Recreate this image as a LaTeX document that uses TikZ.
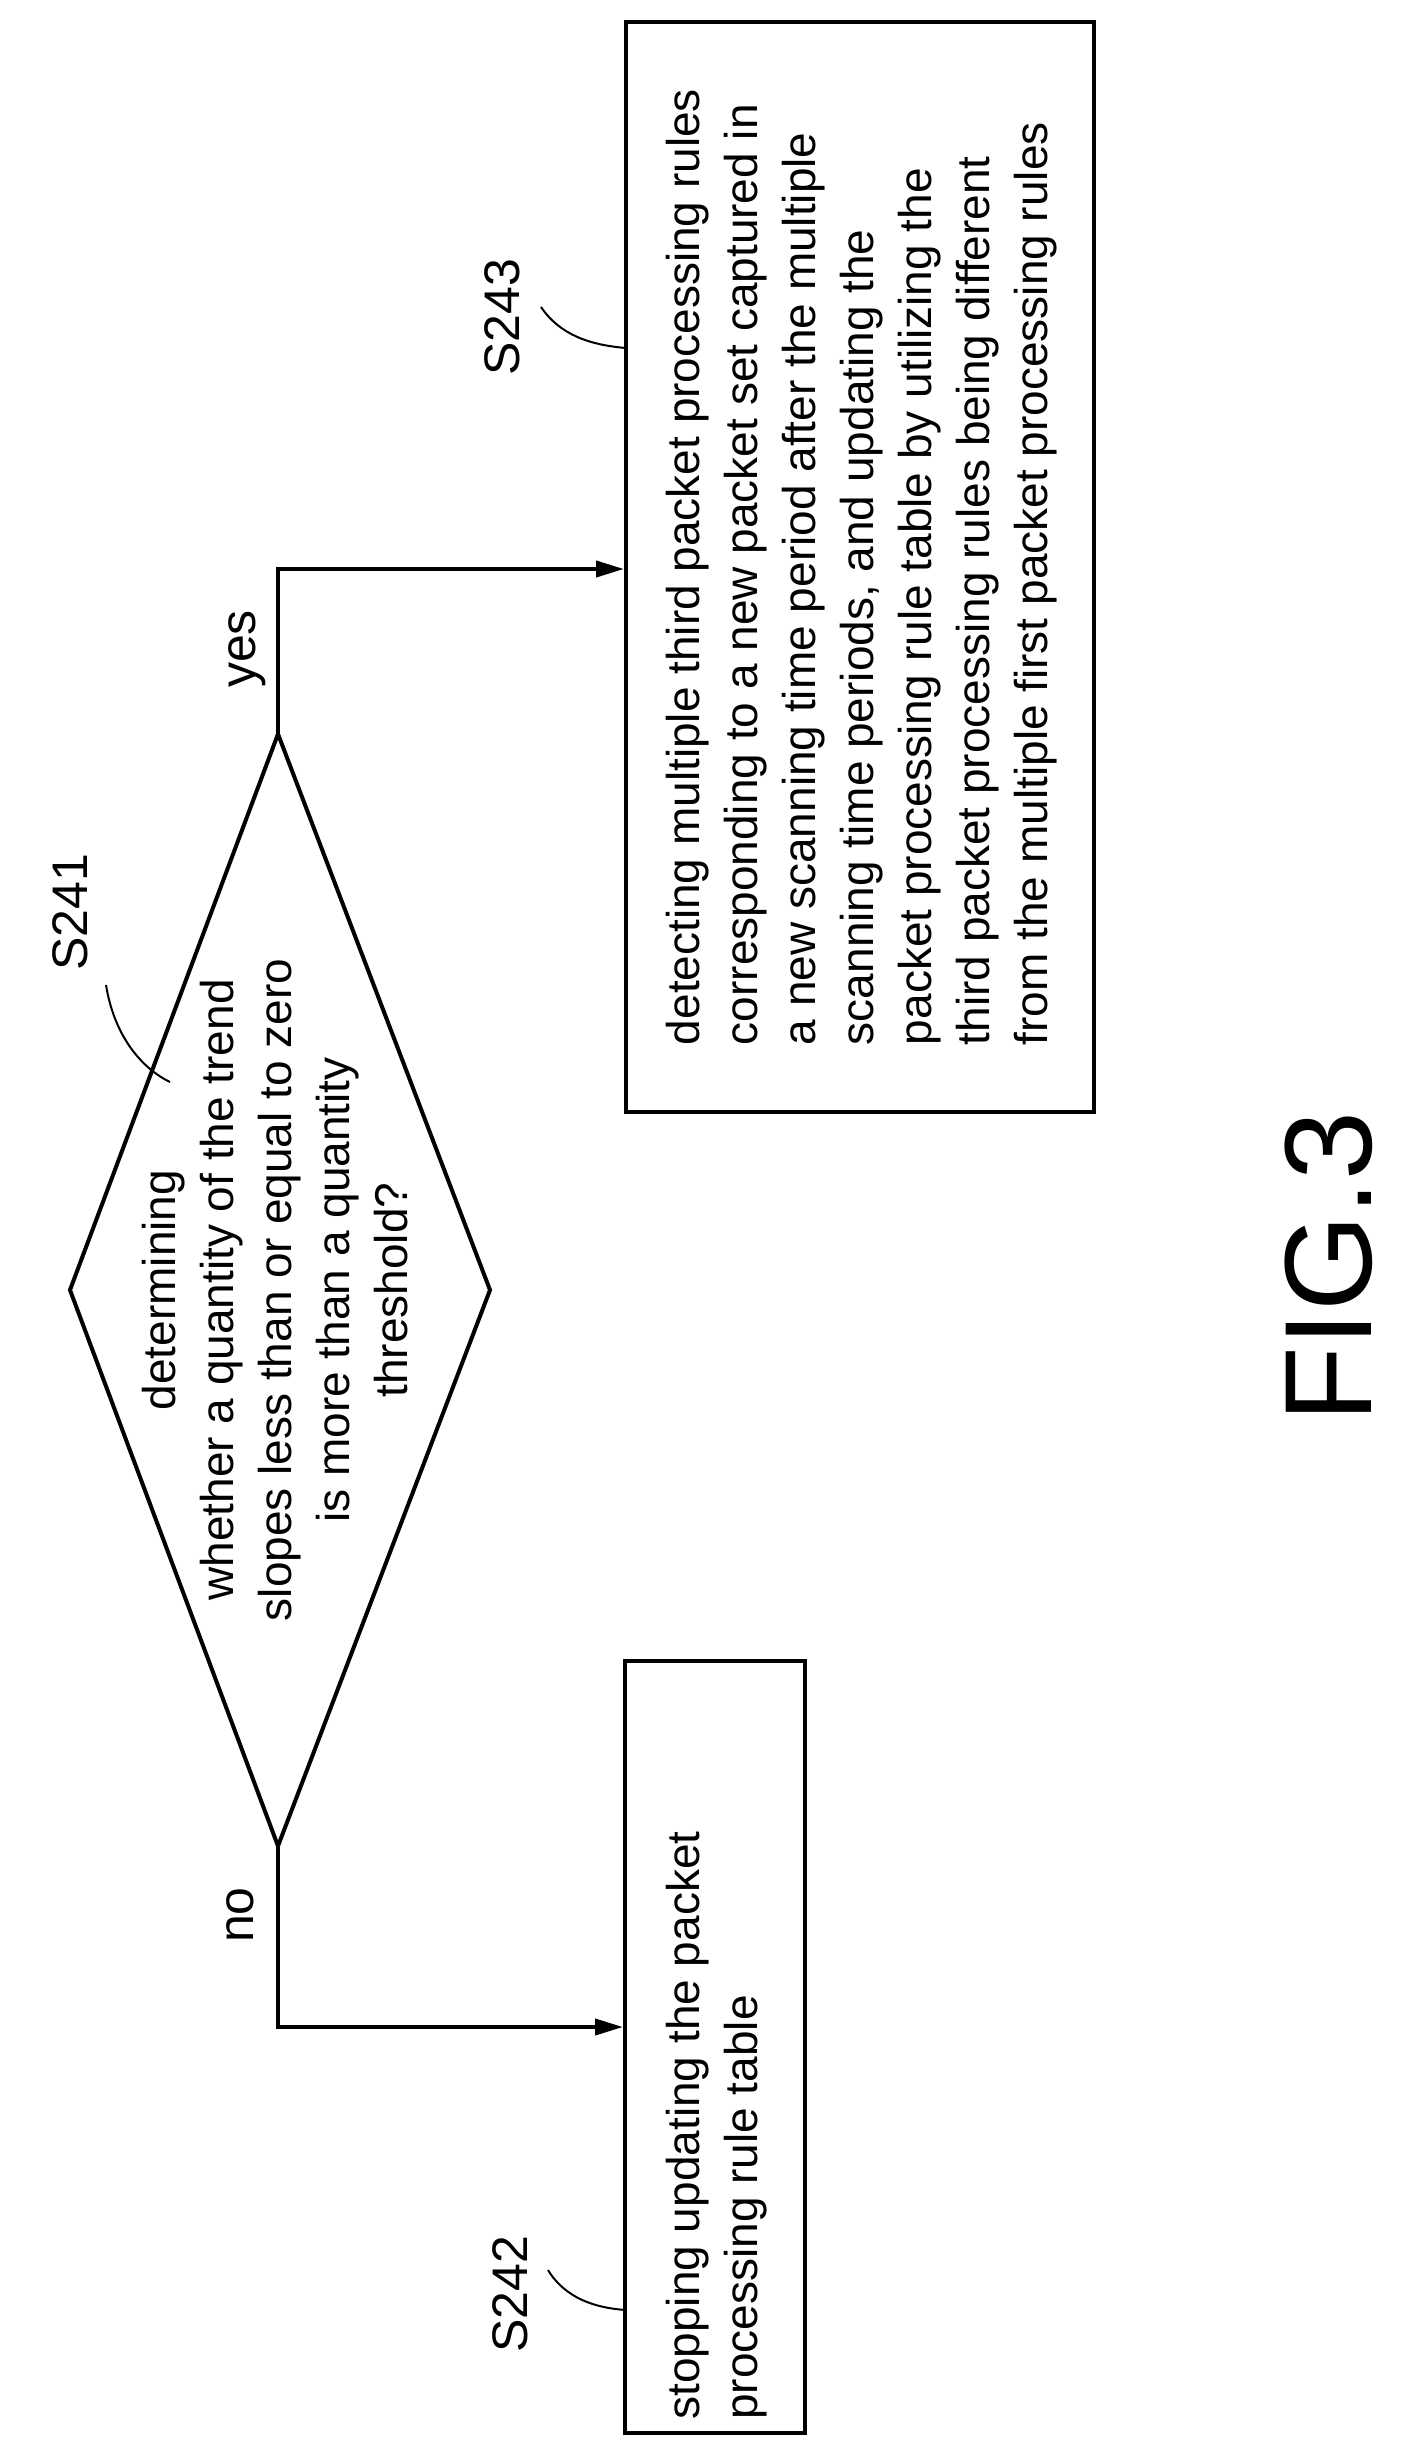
\documentclass[tikz,border=0pt]{standalone}
\usepackage{fontspec}
\setmainfont{Liberation Sans}
\usetikzlibrary{arrows.meta}
\begin{document}
\begin{tikzpicture}[x=0.5pt,y=-0.5pt,
  line/.style={line width=2pt},
  txt/.style={rotate=90,font=\fontsize{23}{29}\selectfont,inner sep=0pt},
  lbl/.style={rotate=90,font=\fontsize{25}{30}\selectfont,inner sep=0pt},
  arr/.style={line,-{Triangle[length=14pt,width=8pt]}}]
\useasboundingbox (0,0) rectangle (1401,2447);
% boxes
\node[draw,line,minimum width=545pt,minimum height=234pt,rotate=90] (b243) at (860,567) {};
\node[draw,line,minimum width=386pt,minimum height=90pt,rotate=90] (b242) at (715,2047) {};
\node[txt,align=left] (t243) at (862,567) {detecting multiple third packet processing rules\\corresponding to a new packet set captured in\\a new scanning time period after the multiple\\scanning time periods, and updating the\\packet processing rule table by utilizing the\\third packet processing rules being different\\from the multiple first packet processing rules};
\node[txt,align=left,anchor=west] (t242) at (717,2420) {stopping updating the packet\\processing rule table};
% diamond
\coordinate (dl) at (70,1290);
\coordinate (dr) at (490,1290);
\coordinate (dt) at (278,734);
\coordinate (db) at (278,1846);
\draw[line,line join=miter] (dl) -- (dt) -- (dr) -- (db) -- cycle;
\node[txt,align=center] (t241) at (275,1290) {determining\\whether a quantity of the trend\\slopes less than or equal to zero\\is more than a quantity\\threshold?};
% connectors
\coordinate (cy) at (278,569);
\coordinate (cn) at (278,2027);
\draw[arr] (dt) -- (cy) -- (b243.north |- cy);
\draw[arr] (db) -- (cn) -- (b242.north |- cn);
\node[lbl] (yes) at (247,649) {yes};
\node[lbl] (no) at (240,1915) {no};
% step labels
\node[lbl] (s243) at (502,317) {S243};
\node[lbl] (s241) at (70,912) {S241};
\node[lbl] (s242) at (510,2294) {S242};
\coordinate (c243) at (626,348);
\coordinate (c241) at (170,1082);
\coordinate (c242) at (626,2310);
\draw[line width=1pt] (541,307) .. controls (560,335) and (590,345) .. (c243);
\draw[line width=1pt] (106,985) .. controls (115,1040) and (145,1070) .. (c241);
\draw[line width=1pt] (548,2270) .. controls (565,2298) and (595,2308) .. (c242);
\node[rotate=90,font=\fontsize{62}{72}\selectfont,inner sep=0pt] (fig) at (1329,1267) {FIG.3};
\end{tikzpicture}
\end{document}
